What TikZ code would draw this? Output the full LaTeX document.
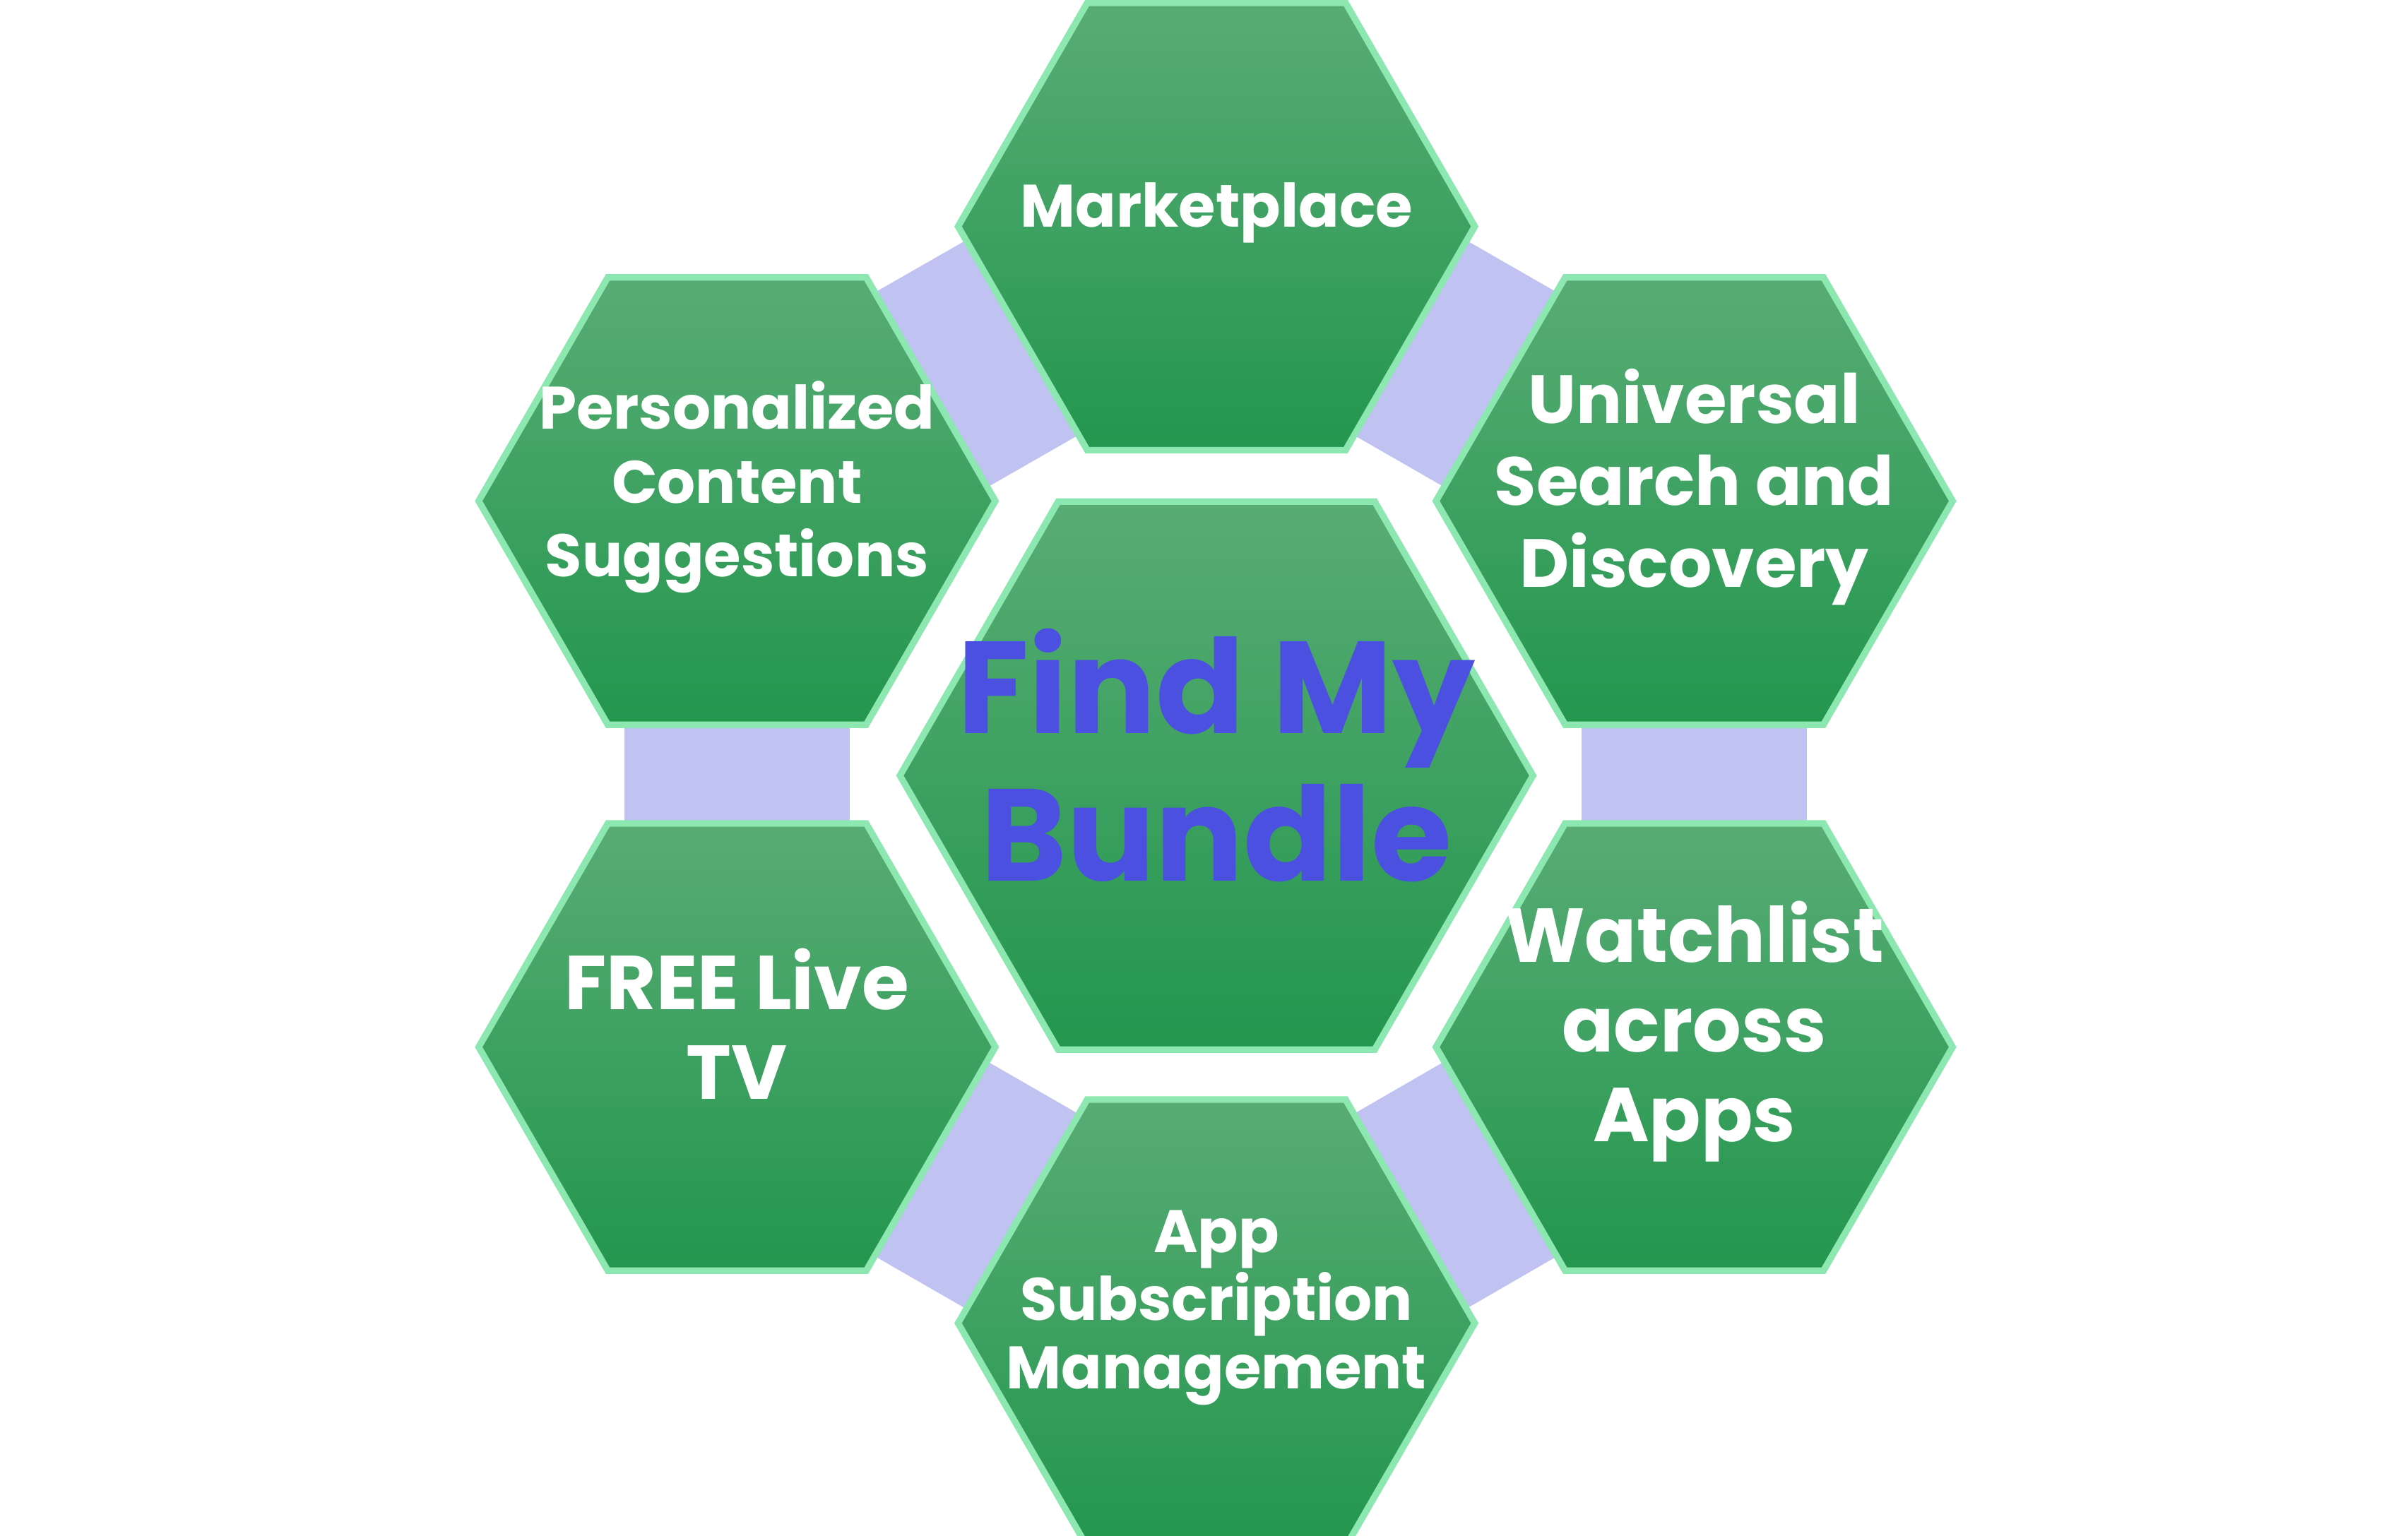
\documentclass[tikz,border=0pt]{standalone}
\usepackage{fontspec}
\setmainfont{Poppins}
\definecolor{lil}{HTML}{C0C2F2}
\definecolor{gtop}{HTML}{58AC74}
\definecolor{gbot}{HTML}{23964E}
\definecolor{gedge}{HTML}{8CE8B0}
\definecolor{cblue}{HTML}{4B50E0}
\tikzset{
  band/.style={lil,line width=1.45cm},
  hexlbl/.style={text=white,font=\bfseries,align=center},
}
\newcommand{\hexat}[4]{% name, x, y, R
  \shade[top color=gtop,bottom color=gbot,draw=gedge,line width=1.2pt]
    (#2,#3) ++(0:#4) -- ++(120:#4) -- ++(180:#4) -- ++(240:#4) -- ++(300:#4) -- ++(0:#4) -- cycle;
  \coordinate (#1) at (#2,#3);
}
\begin{document}
\begin{tikzpicture}
\useasboundingbox (0,0) rectangle (15.52,9.9);
\coordinate (cm) at (7.84,8.44);
\coordinate (cp) at (4.75,6.67);
\coordinate (cu) at (10.92,6.67);
\coordinate (cf) at (4.75,3.15);
\coordinate (cw) at (10.92,3.15);
\coordinate (ca) at (7.84,1.37);
\draw[band] (cm) -- (cp);
\draw[band] (cm) -- (cu);
\draw[band] (cu) -- (cw);
\draw[band] (cw) -- (ca);
\draw[band] (ca) -- (cf);
\draw[band] (cf) -- (cp);
\hexat{hm}{7.84}{8.44}{1.665}
\hexat{hp}{4.75}{6.67}{1.665}
\hexat{hu}{10.92}{6.67}{1.665}
\hexat{hf}{4.75}{3.15}{1.665}
\hexat{hw}{10.92}{3.15}{1.665}
\hexat{ha}{7.84}{1.37}{1.665}
\hexat{hc}{7.84}{4.90}{2.04}
\node[hexlbl,font=\bfseries\fontsize{11}{13}\selectfont] (tm) at (7.84,8.53) {Marketplace};
\node[hexlbl,font=\bfseries\fontsize{11}{13.5}\selectfont] (tp) at (4.75,6.76) {Personalized\\Content\\Suggestions};
\node[hexlbl,font=\bfseries\fontsize{12.5}{15}\selectfont] (tu) at (10.92,6.76) {Universal\\Search and\\Discovery};
\node[hexlbl,font=\bfseries\fontsize{14}{16.5}\selectfont] (tf) at (4.75,3.30) {FREE Live\\TV};
\node[hexlbl,font=\bfseries\fontsize{14}{16.5}\selectfont] (tw) at (10.92,3.25) {Watchlist\\across\\Apps};
\node[hexlbl,font=\bfseries\fontsize{11}{12.5}\selectfont] (ta) at (7.84,1.47) {App\\Subscription\\Management};
\node[hexlbl,text=cblue,font=\bfseries\fontsize{24}{27}\selectfont] (tc) at (7.84,5.03) {Find My\\Bundle};
\end{tikzpicture}
\end{document}
